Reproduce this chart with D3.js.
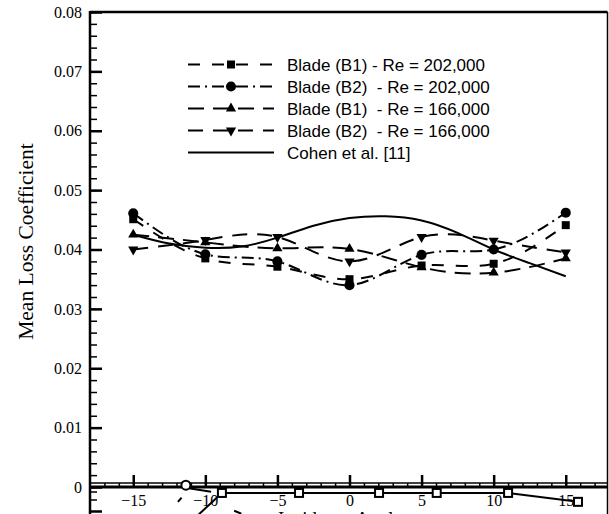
<!DOCTYPE html>
<html>
<head>
<meta charset="utf-8">
<script src="https://cdn.jsdelivr.net/npm/d3@7"></script>
<style>
  html, body { margin: 0; padding: 0; background: #fff; overflow: hidden; }
  svg { display: block; }
</style>
</head>
<body>
<svg id="chart" width="609" height="514"></svg>
<script>
// Incidence angle (deg) at which the loss coefficient was measured
const angles = [-15, -10, -5, 0, 5, 10, 15];

// Measured mean loss coefficient per blade / Reynolds number
const b1Re202 = [0.0451, 0.0385, 0.0371, 0.0350, 0.0373, 0.0376, 0.0441];
const b2Re202 = [0.0461, 0.0392, 0.0380, 0.0340, 0.0391, 0.0400, 0.0462];
const b1Re166 = [0.0425, 0.0412, 0.0402, 0.0401, 0.0370, 0.0361, 0.0385];
const b2Re166 = [0.0400, 0.0416, 0.0421, 0.0380, 0.0421, 0.0415, 0.0395];

// Reference correlation (Cohen et al.)
const cohenAngles = [-15, -12.5, -10, -7.5, -5, -2.5, 0, 2.5, 5, 7.5, 10, 12.5, 15];
const cohenLoss   = [0.0425, 0.0410, 0.0403, 0.0405, 0.0420, 0.0440, 0.0453, 0.0456, 0.0449, 0.0428, 0.0400, 0.0377, 0.0355];

// Legend labels
const legendLabels = [
  "Blade (B1) - Re = 202,000",
  "Blade (B2)  - Re = 202,000",
  "Blade (B1)  - Re = 166,000",
  "Blade (B2)  - Re = 166,000",
  "Cohen et al. [11]"
];

// Axis ticks
const yTicks = [0, 0.01, 0.02, 0.03, 0.04, 0.05, 0.06, 0.07, 0.08];
const xTicks = [-15, -10, -5, 0, 5, 10, 15];

// Second frame peeking in below the axis
const lowerAngles = [-8.85, -3.5, 2.05, 6.05, 11.0, 15.85];
const lowerLoss   = [-0.0010, -0.0010, -0.0010, -0.0010, -0.0010, -0.0025];

const svg = d3.select("#chart");
const W = 609, H = 514;
const plotLeft = 90, plotRight = 607.5, plotTop = 12, plotBottom = 487;
const serifFont = '"Liberation Serif", "Times New Roman", serif';
const sansFont = '"Liberation Sans", Arial, sans-serif';

const x = d3.scaleLinear().domain([-18, 18]).range([plotLeft, 609]);
const y = d3.scaleLinear().domain([0, 0.08]).range([plotBottom, plotTop]);

const series = [
  { name: legendLabels[0], values: b1Re202, dash: "12,12", marker: "square" },
  { name: legendLabels[1], values: b2Re202, dash: "12,5,2,5", marker: "circle" },
  { name: legendLabels[2], values: b1Re166, dash: "16,9", marker: "triUp" },
  { name: legendLabels[3], values: b2Re166, dash: "15,10", marker: "triDown" }
];

const symbols = {
  square: d3.symbol().type(d3.symbolSquare).size(64),
  circle: d3.symbol().type(d3.symbolCircle).size(80),
  triUp: d3.symbol().type(d3.symbolTriangle).size(45),
  triDown: d3.symbol().type(d3.symbolTriangle).size(45)
};
function markerTransform(kind, px, py) {
  return kind === "triDown" ? `translate(${px},${py}) rotate(180)` : `translate(${px},${py})`;
}

// ---- frame ----
svg.append("line").attr("x1", plotLeft).attr("x2", plotRight).attr("y1", plotTop).attr("y2", plotTop)
  .attr("stroke", "#000").attr("stroke-width", 2.5);
svg.append("line").attr("x1", plotRight).attr("x2", plotRight).attr("y1", plotTop).attr("y2", H)
  .attr("stroke", "#000").attr("stroke-width", 1.5);

// ---- y axis ----
const yMinor = d3.range(0, 0.0801, 0.002);
svg.append("g").attr("transform", `translate(${plotLeft},0)`)
  .call(d3.axisLeft(y).tickValues(yMinor).tickSizeInner(-7).tickSizeOuter(0).tickFormat(""))
  .call(g => g.select(".domain").remove())
  .call(g => g.selectAll("line").attr("stroke-width", 1.5));
svg.append("g").attr("transform", `translate(${plotLeft},0)`)
  .call(d3.axisLeft(y).tickValues(yTicks).tickSizeInner(-12).tickSizeOuter(0).tickPadding(8)
    .tickFormat(d => d === 0 ? "0" : d3.format(".2f")(d)))
  .call(g => g.attr("font-family", null).attr("font-size", null))
  .call(g => g.select(".domain").remove())
  .call(g => g.selectAll("line").attr("stroke-width", 2.5))
  .call(g => g.selectAll("text").style("font-size", "16px").style("font-family", serifFont).attr("fill", "#000"));
svg.append("line").attr("x1", plotLeft).attr("x2", plotLeft).attr("y1", plotTop - 1).attr("y2", H)
  .attr("stroke", "#000").attr("stroke-width", 2.5);

svg.append("text")
  .attr("transform", `translate(33,${(plotTop + plotBottom) / 2 - 8}) rotate(-90)`)
  .attr("text-anchor", "middle").style("font-size", "21.5px").style("font-family", serifFont)
  .text("Mean Loss Coefficient");

// ---- x axis ----
svg.append("line").attr("x1", plotLeft).attr("x2", plotRight).attr("y1", 483).attr("y2", 483)
  .attr("stroke", "#000").attr("stroke-width", 1.5);
svg.append("g").attr("transform", `translate(0,${plotBottom})`)
  .call(d3.axisBottom(x).tickValues(d3.range(-17, 18, 1)).tickSizeInner(-4).tickSizeOuter(0).tickFormat(""))
  .call(g => g.select(".domain").remove())
  .call(g => g.selectAll("line").attr("stroke-width", 1.5));
svg.append("g").attr("transform", `translate(0,${plotBottom})`)
  .call(d3.axisBottom(x).tickValues(xTicks).tickSizeInner(-12).tickSizeOuter(0).tickPadding(8))
  .call(g => g.attr("font-family", null).attr("font-size", null))
  .call(g => g.select(".domain").remove())
  .call(g => g.selectAll("line").attr("stroke-width", 2.5))
  .call(g => g.selectAll("text").style("font-size", "16px").style("font-family", serifFont).attr("fill", "#000"));
svg.append("line").attr("x1", plotLeft).attr("x2", plotRight).attr("y1", plotBottom).attr("y2", plotBottom)
  .attr("stroke", "#000").attr("stroke-width", 3);

// ---- lower frame fragments ----
const lowerPts = lowerAngles.map((a, i) => [x(a), y(lowerLoss[i])]);
svg.append("path").attr("d", d3.line()(lowerPts)).attr("fill", "none")
  .attr("stroke", "#000").attr("stroke-width", 2);
svg.selectAll(".lowSq").data(lowerPts).enter().append("rect")
  .attr("x", d => d[0] - 4).attr("y", d => d[1] - 4).attr("width", 8).attr("height", 8)
  .attr("fill", "#fff").attr("stroke", "#000").attr("stroke-width", 2);
const circ = [x(-11.35), y(0.0003)];
svg.append("path").attr("d", d3.line()([[circ[0] + 3, circ[1] + 3], [x(-9.6), y(-0.0008)]]))
  .attr("stroke", "#000").attr("stroke-width", 2);
svg.append("circle").attr("cx", circ[0]).attr("cy", circ[1]).attr("r", 4.5)
  .attr("fill", "#fff").attr("stroke", "#000").attr("stroke-width", 2);
svg.append("path").attr("d", d3.line()([[x(-11.9), y(-0.0025)], [x(-11.65), y(-0.0018)]]))
  .attr("stroke", "#000").attr("stroke-width", 2);
svg.append("path").attr("d", d3.line()([[x(-10.5), H + 1], [x(-9.15), y(-0.0017)]]))
  .attr("stroke", "#000").attr("stroke-width", 2);
svg.append("path").attr("d", d3.line()([[x(-8.0), y(-0.0040)], [x(-7.5), y(-0.0045)]]))
  .attr("stroke", "#000").attr("stroke-width", 2);
[[x(-18), 492, 7], [x(-18), 500, 7], [x(-18), 511.5, 12]].forEach(t => {
  svg.append("line").attr("x1", t[0]).attr("x2", t[0] + t[2]).attr("y1", t[1]).attr("y2", t[1])
    .attr("stroke", "#000").attr("stroke-width", t[2] > 8 ? 2.5 : 1.5);
});
svg.append("text").attr("x", 278).attr("y", 525)
  .style("font-size", "19px").style("font-family", serifFont).text("Incidence Angle");

// ---- data curves ----
const line = d3.line().x(d => x(d[0])).y(d => y(d[1])).curve(d3.curveNatural);
series.forEach(s => {
  const pts = angles.map((a, i) => [a, s.values[i]]);
  svg.append("path").attr("d", line(pts)).attr("fill", "none")
    .attr("stroke", "#000").attr("stroke-width", 2).attr("stroke-dasharray", s.dash);
});
svg.append("path").attr("d", line(cohenAngles.map((a, i) => [a, cohenLoss[i]])))
  .attr("fill", "none").attr("stroke", "#000").attr("stroke-width", 2);
series.forEach(s => {
  angles.forEach((a, i) => {
    svg.append("path").attr("d", symbols[s.marker]())
      .attr("transform", markerTransform(s.marker, x(a), y(s.values[i])))
      .attr("fill", "#000");
  });
});

// ---- legend ----
const lg = svg.append("g");
const rowY = [64.5, 86.5, 108.5, 130.5, 152.5];
legendLabels.forEach((label, i) => {
  const ly = rowY[i];
  const ln = lg.append("line").attr("x1", 188).attr("x2", 274).attr("y1", ly).attr("y2", ly)
    .attr("stroke", "#000").attr("stroke-width", 2);
  if (i < 4) {
    ln.attr("stroke-dasharray", series[i].dash);
    lg.append("path").attr("d", symbols[series[i].marker]())
      .attr("transform", markerTransform(series[i].marker, 231, ly)).attr("fill", "#000");
  }
  lg.append("text").attr("x", 287).attr("y", ly + 6)
    .style("font-size", "17px").style("font-family", sansFont)
    .style("white-space", "pre").text(label);
});
</script>
</body>
</html>
